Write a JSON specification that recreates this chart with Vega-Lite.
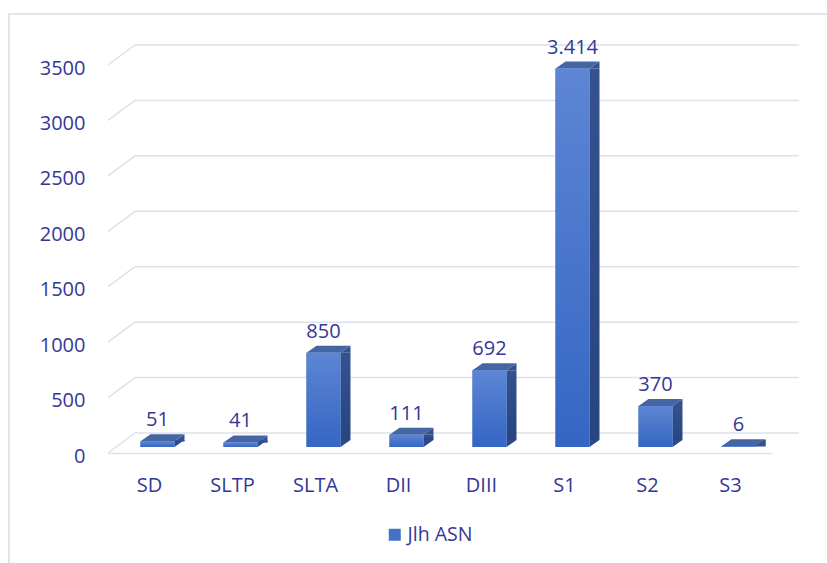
{
  "$schema": "https://vega.github.io/schema/vega-lite/v6.json",
  "autosize": {"type": "none"},
  "padding": {"left": 9, "top": 14, "right": -12, "bottom": -12},
  "width": 830,
  "height": 561,
  "background": "white",
  "config": {
    "view": {"stroke": "#d9dde6", "strokeWidth": 1.5},
    "font": "Open Sans"
  },
  "datasets": {
    "bars": [
      {"cat": "SD", "v": 51, "label": "51"},
      {"cat": "SLTP", "v": 41, "label": "41"},
      {"cat": "SLTA", "v": 850, "label": "850"},
      {"cat": "DII", "v": 111, "label": "111"},
      {"cat": "DIII", "v": 692, "label": "692"},
      {"cat": "S1", "v": 3414, "label": "3.414"},
      {"cat": "S2", "v": 370, "label": "370"},
      {"cat": "S3", "v": 6, "label": "6"}
    ],
    "grid": [
      {"v": 0}, {"v": 500}, {"v": 1000}, {"v": 1500},
      {"v": 2000}, {"v": 2500}, {"v": 3000}, {"v": 3500}
    ]
  },
  "encoding": {
    "x": {
      "field": "cat", "type": "nominal", "sort": null,
      "scale": {"domain": ["SD", "SLTP", "SLTA", "DII", "DIII", "S1", "S2", "S3"], "range": [99, 763], "paddingInner": 0, "paddingOuter": 0},
      "axis": {
        "orient": "bottom", "offset": -122, "title": null, "ticks": false,
        "domain": true, "domainColor": "#dde1e9", "domainWidth": 1.5,
        "labelPadding": 22, "labelFontSize": 20, "labelFont": "Open Sans",
        "labelColor": "#343796", "labelAngle": 0, "grid": false
      }
    }
  },
  "layer": [
    {
      "data": {"name": "grid"},
      "mark": {"type": "rule", "color": "#dde1e9", "strokeWidth": 1.5, "xOffset": 27, "x2Offset": 27, "yOffset": -20, "y2Offset": -20},
      "encoding": {
        "x": {"datum": "SD", "bandPosition": 0},
        "x2": {"datum": "S3", "bandPosition": 1},
        "y": {
          "field": "v", "type": "quantitative",
          "scale": {"domain": [0, 3500], "range": [439, 51], "nice": false},
          "axis": {
            "orient": "left", "offset": -99, "title": null, "ticks": false, "domain": false, "grid": false,
            "values": [0, 500, 1000, 1500, 2000, 2500, 3000, 3500], "format": "d",
            "labelPadding": 23, "labelFontSize": 20, "labelFont": "Open Sans",
            "labelColor": "#343796", "labelOffset": 3
          }
        },
        "y2": {"field": "v"}
      }
    },
    {
      "data": {"name": "grid"},
      "mark": {"type": "rule", "color": "#dde1e9", "strokeWidth": 1.5, "x2Offset": 27, "y2Offset": -20},
      "encoding": {
        "x": {"datum": "SD", "bandPosition": 0},
        "x2": {"datum": "SD", "bandPosition": 0},
        "y": {"field": "v", "type": "quantitative"},
        "y2": {"field": "v"}
      }
    },
    {
      "data": {"name": "bars"},
      "mark": {"type": "point", "filled": true, "opacity": 1, "strokeWidth": 0, "fill": "#2c4a88", "size": 2916,
               "shape": "M0.6296,-0.2593L0.6296,0L1,-0.2593Z", "xOffset": 8, "yOffset": -6},
      "encoding": {"y": {"datum": 0, "type": "quantitative"}}
    },
    {
      "data": {"name": "bars"},
      "mark": {"type": "bar", "width": 10, "xOffset": 30, "yOffset": -6, "y2Offset": -13,
               "fill": {"gradient": "linear", "x1": 0, "y1": 0, "x2": 0, "y2": 1,
                        "stops": [{"offset": 0, "color": "#34528f"}, {"offset": 1, "color": "#27457f"}]}},
      "encoding": {
        "y": {"field": "v", "type": "quantitative"},
        "y2": {"datum": 0}
      }
    },
    {
      "data": {"name": "bars"},
      "mark": {"type": "point", "filled": true, "opacity": 1, "strokeWidth": 0, "fill": "#34528f", "size": 2916,
               "shape": "M0.6296,0L1,-0.2593L1,0Z", "xOffset": 8, "yOffset": -6},
      "encoding": {"y": {"field": "v", "type": "quantitative"}}
    },
    {
      "data": {"name": "bars"},
      "mark": {"type": "point", "filled": true, "opacity": 1, "strokeWidth": 0, "fill": "#4565a3", "size": 2916,
               "shape": "M-0.6296,0L0.6296,0L1,-0.2593L-0.2593,-0.2593Z", "xOffset": 8, "yOffset": -6},
      "encoding": {"y": {"field": "v", "type": "quantitative"}}
    },
    {
      "data": {"name": "bars"},
      "mark": {"type": "bar", "width": 34, "xOffset": 8, "yOffset": -6, "y2Offset": -6},
      "encoding": {
        "y": {"field": "v", "type": "quantitative"},
        "y2": {"datum": 0},
        "color": {
          "datum": "Jlh ASN", "type": "nominal",
          "scale": {"range": ["#4472c4"]},
          "legend": {
            "orient": "none", "legendX": 376, "legendY": 511, "title": null,
            "symbolType": "square", "symbolSize": 144, "padding": 0,
            "labelFontSize": 19.5, "labelFont": "Open Sans", "labelColor": "#343796", "labelOffset": 3
          }
        }
      }
    },
    {
      "data": {"name": "bars"},
      "mark": {"type": "bar", "width": 34, "xOffset": 8, "yOffset": -6, "y2Offset": -6,
               "fill": {"gradient": "linear", "x1": 0, "y1": 0, "x2": 0, "y2": 1,
                        "stops": [{"offset": 0, "color": "#5d86d4"}, {"offset": 1, "color": "#3566c3"}]}},
      "encoding": {
        "y": {"field": "v", "type": "quantitative"},
        "y2": {"datum": 0}
      }
    },
    {
      "data": {"name": "bars"},
      "mark": {"type": "text", "dx": 8, "dy": -21, "baseline": "alphabetic", "align": "center",
               "fontSize": 20, "font": "Open Sans", "color": "#343796"},
      "encoding": {
        "y": {"field": "v", "type": "quantitative"},
        "text": {"field": "label"}
      }
    }
  ]
}
